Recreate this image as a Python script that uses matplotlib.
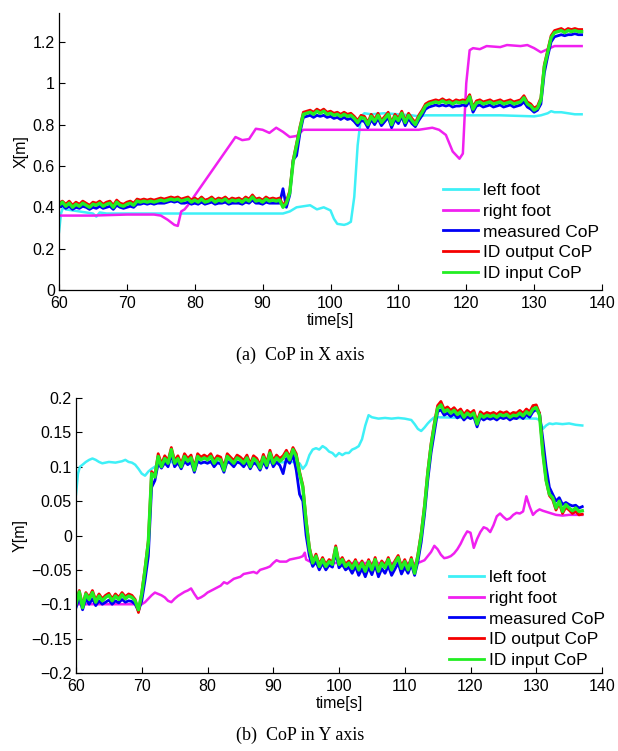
import numpy as np
import matplotlib
matplotlib.use('Agg')
import matplotlib.pyplot as plt

plt.rcParams['font.family'] = ['Liberation Sans', 'DejaVu Sans']

# ---------------- data: CoP in X axis ----------------
# CoP series sampled every 0.5 s from 60 to 137 s
t_cop = np.arange(60, 137.01, 0.5)

x_input = [0.41, 0.425, 0.405, 0.42, 0.40, 0.415, 0.405, 0.42, 0.41, 0.40,
           0.415, 0.41, 0.42, 0.405, 0.415, 0.42, 0.40, 0.425, 0.41, 0.405,
           0.415, 0.42, 0.41, 0.43, 0.425, 0.43, 0.425, 0.43, 0.425, 0.43,
           0.435, 0.43, 0.435, 0.44, 0.435, 0.44, 0.43, 0.435, 0.44, 0.425,
           0.435, 0.425, 0.44, 0.425, 0.43, 0.44, 0.425, 0.435, 0.43, 0.44,
           0.425, 0.435, 0.43, 0.435, 0.425, 0.44, 0.43, 0.45, 0.43, 0.435,
           0.425, 0.44, 0.43, 0.435, 0.43, 0.435, 0.40, 0.42, 0.47, 0.62,
           0.70, 0.78, 0.85, 0.855, 0.86, 0.85, 0.865, 0.855, 0.865, 0.85,
           0.855, 0.845, 0.85, 0.84, 0.85, 0.84, 0.845, 0.83, 0.81, 0.835,
           0.83, 0.80, 0.84, 0.815, 0.845, 0.81, 0.83, 0.85, 0.80, 0.84,
           0.82, 0.855, 0.81, 0.845, 0.82, 0.80, 0.835, 0.86, 0.89, 0.90,
           0.905, 0.91, 0.905, 0.915, 0.905, 0.91, 0.90, 0.91, 0.905, 0.91,
           0.905, 0.935, 0.875, 0.905, 0.91, 0.90, 0.905, 0.91, 0.90, 0.905,
           0.91, 0.90, 0.905, 0.91, 0.90, 0.905, 0.91, 0.93, 0.90, 0.89,
           0.87, 0.88, 0.92, 1.08, 1.15, 1.22, 1.245, 1.25, 1.255, 1.245,
           1.255, 1.25, 1.255, 1.25, 1.25]

x_output = [0.42, 0.43, 0.415, 0.43, 0.41, 0.425, 0.415, 0.43, 0.42, 0.41,
            0.425, 0.42, 0.43, 0.415, 0.425, 0.43, 0.41, 0.435, 0.42, 0.415,
            0.425, 0.43, 0.42, 0.44, 0.435, 0.44, 0.435, 0.44, 0.435, 0.44,
            0.445, 0.44, 0.445, 0.45, 0.445, 0.45, 0.44, 0.445, 0.45, 0.435,
            0.445, 0.435, 0.45, 0.435, 0.44, 0.45, 0.435, 0.445, 0.44, 0.45,
            0.435, 0.445, 0.44, 0.445, 0.435, 0.45, 0.44, 0.46, 0.44, 0.445,
            0.435, 0.45, 0.44, 0.445, 0.44, 0.445, 0.41, 0.43, 0.48, 0.63,
            0.71, 0.79, 0.86, 0.865, 0.87, 0.86, 0.875, 0.865, 0.875, 0.86,
            0.865, 0.855, 0.86, 0.85, 0.86, 0.85, 0.855, 0.84, 0.82, 0.845,
            0.84, 0.81, 0.85, 0.825, 0.855, 0.82, 0.84, 0.86, 0.81, 0.85,
            0.83, 0.865, 0.82, 0.855, 0.83, 0.81, 0.845, 0.87, 0.90, 0.91,
            0.915, 0.92, 0.915, 0.925, 0.915, 0.92, 0.91, 0.92, 0.915, 0.92,
            0.915, 0.945, 0.885, 0.915, 0.92, 0.91, 0.915, 0.92, 0.91, 0.915,
            0.92, 0.91, 0.915, 0.92, 0.91, 0.915, 0.92, 0.94, 0.91, 0.90,
            0.88, 0.89, 0.93, 1.09, 1.16, 1.23, 1.255, 1.26, 1.265, 1.255,
            1.265, 1.26, 1.265, 1.26, 1.26]

x_meas = [0.40, 0.41, 0.395, 0.405, 0.39, 0.40, 0.395, 0.405, 0.40, 0.39,
          0.40, 0.395, 0.405, 0.395, 0.40, 0.405, 0.39, 0.41, 0.40, 0.395,
          0.40, 0.405, 0.40, 0.415, 0.415, 0.42, 0.415, 0.42, 0.415, 0.42,
          0.42, 0.42, 0.425, 0.43, 0.425, 0.43, 0.42, 0.42, 0.425, 0.415,
          0.42, 0.415, 0.425, 0.415, 0.42, 0.425, 0.415, 0.42, 0.42, 0.425,
          0.415, 0.42, 0.42, 0.42, 0.415, 0.425, 0.42, 0.435, 0.42, 0.42,
          0.415, 0.425, 0.42, 0.42, 0.42, 0.42, 0.49, 0.40, 0.46, 0.63,
          0.65, 0.76, 0.835, 0.84, 0.845, 0.835, 0.845, 0.84, 0.845, 0.835,
          0.84, 0.83, 0.835, 0.825, 0.835, 0.825, 0.83, 0.815, 0.795, 0.82,
          0.815, 0.785, 0.825, 0.80, 0.83, 0.795, 0.815, 0.835, 0.785, 0.825,
          0.805, 0.84, 0.795, 0.83, 0.805, 0.79, 0.82, 0.845, 0.875, 0.885,
          0.89, 0.895, 0.89, 0.895, 0.89, 0.895, 0.885, 0.89, 0.89, 0.895,
          0.89, 0.915, 0.86, 0.89, 0.895, 0.885, 0.89, 0.895, 0.885, 0.89,
          0.895, 0.885, 0.89, 0.895, 0.885, 0.89, 0.895, 0.91, 0.885, 0.875,
          0.86, 0.87, 0.90, 1.05, 1.13, 1.20, 1.225, 1.23, 1.235, 1.23,
          1.235, 1.235, 1.24, 1.235, 1.235]

t_lx = [60, 60.3, 60.6, 61, 62, 63, 64, 65, 65.5, 66,
        67, 70, 75, 80, 85, 90, 93, 94, 95, 96,
        97, 98, 99, 100, 100.5, 101, 102, 102.5, 103, 103.5,
        104, 104.5, 105, 106, 108, 110, 112, 113, 114, 120,
        125, 130, 131, 132, 132.5, 133, 134, 135, 136, 137]
left_x = [0.28, 0.37, 0.40, 0.39, 0.385, 0.38, 0.375, 0.37, 0.355, 0.375,
          0.37, 0.37, 0.37, 0.37, 0.37, 0.37, 0.37, 0.38, 0.40, 0.405,
          0.41, 0.39, 0.40, 0.385, 0.345, 0.32, 0.315, 0.32, 0.33, 0.45,
          0.70, 0.84, 0.855, 0.85, 0.855, 0.85, 0.845, 0.84, 0.845, 0.845,
          0.845, 0.84, 0.845, 0.855, 0.865, 0.86, 0.86, 0.855, 0.85, 0.85]

t_rx = [60, 65, 70, 74, 75, 76, 77, 77.5, 78, 78.5,
        79, 86, 87, 88, 89, 90, 91, 92, 93, 94,
        95, 96, 100, 105, 110, 113, 114, 115, 116, 117,
        118, 119, 119.5, 120, 120.5, 121, 122, 123, 125, 126,
        128, 129, 130, 131, 132, 133, 137]
right_x = [0.36, 0.36, 0.365, 0.365, 0.36, 0.34, 0.315, 0.31, 0.38, 0.39,
           0.41, 0.74, 0.725, 0.73, 0.78, 0.775, 0.76, 0.785, 0.765, 0.74,
           0.745, 0.775, 0.775, 0.775, 0.775, 0.775, 0.78, 0.785, 0.775, 0.75,
           0.67, 0.635, 0.66, 1.0, 1.16, 1.17, 1.165, 1.18, 1.175, 1.185,
           1.18, 1.185, 1.17, 1.15, 1.165, 1.18, 1.18]

# ---------------- data: CoP in Y axis ----------------
y_input = [-0.10, -0.082, -0.105, -0.085, -0.093, -0.083, -0.097, -0.088, -0.095, -0.09,
           -0.087, -0.095, -0.088, -0.093, -0.086, -0.092, -0.088, -0.09, -0.095, -0.108,
           -0.085, -0.05, -0.01, 0.09, 0.085, 0.115, 0.10, 0.112, 0.105, 0.125,
           0.105, 0.112, 0.10, 0.115, 0.108, 0.113, 0.095, 0.115, 0.11, 0.113,
           0.11, 0.115, 0.105, 0.112, 0.11, 0.095, 0.115, 0.11, 0.105, 0.113,
           0.11, 0.105, 0.113, 0.10, 0.112, 0.108, 0.098, 0.114, 0.102, 0.12,
           0.105, 0.113, 0.108, 0.112, 0.12, 0.11, 0.125, 0.115, 0.09, 0.07,
           0.02, -0.02, -0.04, -0.03, -0.045, -0.035, -0.045, -0.038, -0.042, -0.018,
           -0.042, -0.035, -0.045, -0.04, -0.048, -0.038, -0.05, -0.04, -0.052, -0.038,
           -0.05, -0.035, -0.052, -0.04, -0.047, -0.035, -0.05, -0.04, -0.032, -0.048,
           -0.038, -0.05, -0.035, -0.055, -0.03, 0.0, 0.04, 0.09, 0.13, 0.16,
           0.185, 0.19, 0.18, 0.183, 0.178, 0.182, 0.176, 0.18, 0.172, 0.178,
           0.174, 0.178, 0.162, 0.176, 0.172, 0.175, 0.173, 0.175, 0.172, 0.176,
           0.174, 0.176, 0.172, 0.175, 0.174, 0.178, 0.174, 0.18, 0.176, 0.184,
           0.186, 0.175, 0.12, 0.08, 0.06, 0.055, 0.04, 0.05, 0.035, 0.045,
           0.04, 0.036, 0.04, 0.035, 0.036]

y_output = [-0.097, -0.08, -0.102, -0.083, -0.09, -0.08, -0.094, -0.085, -0.092, -0.087,
            -0.084, -0.092, -0.085, -0.09, -0.083, -0.089, -0.085, -0.087, -0.093, -0.112,
            -0.083, -0.047, -0.007, 0.093, 0.088, 0.119, 0.104, 0.116, 0.109, 0.128,
            0.109, 0.116, 0.104, 0.119, 0.112, 0.117, 0.099, 0.119, 0.114, 0.117,
            0.114, 0.119, 0.109, 0.116, 0.114, 0.099, 0.119, 0.114, 0.109, 0.117,
            0.114, 0.109, 0.117, 0.104, 0.116, 0.112, 0.102, 0.118, 0.106, 0.124,
            0.109, 0.117, 0.112, 0.116, 0.124, 0.114, 0.128, 0.119, 0.093, 0.073,
            0.023, -0.017, -0.038, -0.027, -0.042, -0.032, -0.042, -0.035, -0.039, -0.015,
            -0.039, -0.032, -0.042, -0.037, -0.045, -0.035, -0.047, -0.037, -0.049, -0.035,
            -0.047, -0.032, -0.049, -0.037, -0.044, -0.032, -0.047, -0.037, -0.029, -0.045,
            -0.035, -0.047, -0.032, -0.052, -0.027, 0.004, 0.044, 0.094, 0.134, 0.164,
            0.189, 0.195, 0.184, 0.187, 0.182, 0.186, 0.18, 0.184, 0.176, 0.182,
            0.178, 0.182, 0.166, 0.18, 0.176, 0.179, 0.177, 0.179, 0.176, 0.18,
            0.178, 0.18, 0.176, 0.179, 0.178, 0.182, 0.178, 0.184, 0.18, 0.189,
            0.19, 0.178, 0.122, 0.08, 0.058, 0.052, 0.037, 0.047, 0.032, 0.041,
            0.037, 0.032, 0.035, 0.03, 0.031]

y_meas = [-0.105, -0.09, -0.108, -0.092, -0.10, -0.092, -0.102, -0.095, -0.10, -0.097,
          -0.094, -0.10, -0.095, -0.098, -0.093, -0.097, -0.095, -0.096, -0.10, -0.11,
          -0.095, -0.065, -0.03, 0.07, 0.08, 0.105, 0.098, 0.106, 0.10, 0.118,
          0.10, 0.106, 0.097, 0.108, 0.103, 0.107, 0.092, 0.108, 0.105, 0.107,
          0.105, 0.108, 0.10, 0.106, 0.104, 0.092, 0.108, 0.105, 0.10, 0.107,
          0.105, 0.10, 0.107, 0.097, 0.106, 0.103, 0.095, 0.108, 0.098, 0.114,
          0.10, 0.107, 0.102, 0.09, 0.112, 0.105, 0.118, 0.095, 0.06, 0.05,
          0.0, -0.03, -0.045, -0.038, -0.05, -0.04, -0.05, -0.043, -0.046, -0.025,
          -0.047, -0.042, -0.05, -0.046, -0.055, -0.045, -0.058, -0.048, -0.06, -0.046,
          -0.057, -0.043, -0.06, -0.048, -0.055, -0.044, -0.058, -0.049, -0.04, -0.056,
          -0.046, -0.055, -0.042, -0.058, -0.038, -0.01, 0.03, 0.08, 0.12, 0.15,
          0.18, 0.183, 0.175, 0.178, 0.173, 0.177, 0.171, 0.175, 0.168, 0.173,
          0.17, 0.173, 0.158, 0.172, 0.168, 0.171, 0.169, 0.171, 0.168, 0.172,
          0.17, 0.172, 0.168, 0.171, 0.17, 0.174, 0.17, 0.176, 0.172, 0.18,
          0.183, 0.178, 0.14, 0.10, 0.07, 0.06, 0.05, 0.055, 0.045, 0.048,
          0.045, 0.043, 0.044, 0.04, 0.042]

t_ly = [60, 60.3, 60.6, 61, 61.5, 62, 62.5, 63, 63.5, 64,
        65, 66, 67, 67.5, 68, 68.5, 69, 69.5, 70, 70.5,
        71, 71.5, 72, 72.5, 73, 80, 85, 90, 93, 94,
        94.5, 95, 95.5, 96, 96.5, 97, 97.5, 98, 98.5, 99,
        99.5, 100, 100.5, 101, 101.5, 102, 102.5, 103, 103.5, 104,
        104.5, 105, 106, 107, 108, 109, 110, 111, 111.5, 112,
        112.5, 113, 113.5, 114, 114.5, 115, 120, 125, 130, 130.5,
        131, 131.5, 132, 132.5, 133, 134, 135, 136, 137]
left_y = [0.06, 0.09, 0.10, 0.103, 0.107, 0.11, 0.112, 0.11, 0.107, 0.105,
          0.107, 0.106, 0.108, 0.11, 0.107, 0.106, 0.103, 0.097, 0.09, 0.087,
          0.093, 0.097, 0.10, 0.105, 0.107, 0.106, 0.106, 0.106, 0.107, 0.105,
          0.097, 0.103, 0.117, 0.125, 0.127, 0.125, 0.13, 0.127, 0.122, 0.12,
          0.115, 0.12, 0.117, 0.12, 0.12, 0.125, 0.127, 0.13, 0.14, 0.16,
          0.175, 0.172, 0.17, 0.171, 0.17, 0.171, 0.17, 0.168, 0.162, 0.155,
          0.152, 0.157, 0.163, 0.168, 0.172, 0.172, 0.171, 0.171, 0.17, 0.168,
          0.155, 0.16, 0.163, 0.162, 0.163, 0.162, 0.163, 0.161, 0.16]

t_ry = [60, 65, 69, 69.5, 70, 70.5, 71, 71.5, 72, 72.5,
        73, 73.5, 74, 74.5, 75, 75.5, 76, 76.5, 77, 77.5,
        78, 78.5, 79, 79.5, 80, 81, 82, 82.5, 83, 84,
        85, 85.5, 86, 87, 87.5, 88, 89, 89.5, 90, 90.5,
        91, 92, 92.5, 93, 94, 94.5, 94.8, 95, 96, 100,
        105, 110, 112, 113, 113.5, 114, 114.5, 115, 115.5, 116,
        116.5, 117, 117.5, 118, 118.5, 119, 119.5, 120, 120.5, 121,
        121.5, 122, 122.5, 123, 123.5, 124, 124.5, 125, 125.5, 126,
        126.5, 127, 127.5, 128, 128.5, 129, 129.5, 130, 130.5, 131,
        132, 133, 134, 135, 137]
right_y = [-0.10, -0.10, -0.10, -0.102, -0.10, -0.097, -0.092, -0.087, -0.083, -0.085,
           -0.087, -0.09, -0.095, -0.097, -0.092, -0.088, -0.085, -0.082, -0.08, -0.077,
           -0.085, -0.092, -0.09, -0.087, -0.083, -0.078, -0.073, -0.068, -0.07, -0.063,
           -0.06, -0.056, -0.055, -0.053, -0.055, -0.05, -0.047, -0.045, -0.04, -0.036,
           -0.038, -0.038, -0.035, -0.034, -0.032, -0.03, -0.025, -0.035, -0.04, -0.04,
           -0.04, -0.04, -0.04, -0.036, -0.03, -0.024, -0.015, -0.02, -0.028, -0.033,
           -0.032, -0.03, -0.026, -0.02, -0.012, -0.002, 0.006, 0.004, -0.018, -0.005,
           0.005, 0.012, 0.01, 0.005, 0.015, 0.028, 0.032, 0.027, 0.023, 0.025,
           0.03, 0.033, 0.032, 0.035, 0.057, 0.042, 0.03, 0.035, 0.038, 0.036,
           0.033, 0.03, 0.029, 0.03, 0.03]

labels = ['left foot', 'right foot', 'measured CoP', 'ID output CoP', 'ID input CoP']
colors = ['#3ef0f7', '#f020f0', '#0000f5', '#f50000', '#22ee22']

x_ticks = [60, 70, 80, 90, 100, 110, 120, 130, 140]
yx_ticks = [0, 0.2, 0.4, 0.6, 0.8, 1.0, 1.2]
yx_labels = ['0', '0.2', '0.4', '0.6', '0.8', '1', '1.2']
yy_ticks = [-0.2, -0.15, -0.1, -0.05, 0, 0.05, 0.1, 0.15, 0.2]
yy_labels = ['\u22120.2', '\u22120.15', '\u22120.1', '\u22120.05', '0',
             '0.05', '0.1', '0.15', '0.2']

fig = plt.figure(figsize=(6.18, 7.51), dpi=100)

ax1 = fig.add_axes([59/618, 1-290/751, 543/618, 277/751])
ax2 = fig.add_axes([76/618, 1-673/751, 526/618, 275/751])


def style(ax):
    for s in ['top', 'right']:
        ax.spines[s].set_visible(False)
    for s in ['left', 'bottom']:
        ax.spines[s].set_linewidth(0.9)
    ax.tick_params(direction='in', length=4, width=0.8, labelsize=11.5, pad=3)
    ax.tick_params(axis='x', pad=4)
    ax.set_xlim(60, 140)
    ax.set_xticks(x_ticks)
    ax.set_xlabel('time[s]', fontsize=11.5, labelpad=2)


# top panel
ax1.plot(t_lx, left_x, color=colors[0], lw=1.8, label=labels[0])
ax1.plot(t_rx, right_x, color=colors[1], lw=1.8, label=labels[1])
ax1.plot(t_cop, x_meas, color=colors[2], lw=2.0, label=labels[2])
ax1.plot(t_cop, x_output, color=colors[3], lw=2.0, label=labels[3])
ax1.plot(t_cop, x_input, color=colors[4], lw=2.4, label=labels[4])
style(ax1)
ax1.set_ylim(0, 1.34)
ax1.set_yticks(yx_ticks)
ax1.set_yticklabels(yx_labels)
ax1.set_ylabel('X[m]', fontsize=11.5, labelpad=3)

# bottom panel
ax2.plot(t_ly, left_y, color=colors[0], lw=1.8, label=labels[0])
ax2.plot(t_ry, right_y, color=colors[1], lw=1.8, label=labels[1])
ax2.plot(t_cop, y_meas, color=colors[2], lw=2.0, label=labels[2])
ax2.plot(t_cop, y_output, color=colors[3], lw=2.0, label=labels[3])
ax2.plot(t_cop, y_input, color=colors[4], lw=2.4, label=labels[4])
style(ax2)
ax2.set_ylim(-0.2, 0.2)
ax2.set_yticks(yy_ticks)
ax2.set_yticklabels(yy_labels)
ax2.set_ylabel('Y[m]', fontsize=11.5, labelpad=3)

for ax, (lx, ly) in [(ax1, (443, 183)), (ax2, (449, 570))]:
    leg = ax.legend(loc='upper left', bbox_to_anchor=(lx/618, 1-ly/751),
                    bbox_transform=fig.transFigure, frameon=False,
                    fontsize=12.5, handlelength=2.0, handletextpad=0.3,
                    labelspacing=0.32, borderpad=0, borderaxespad=0)
    for h in leg.get_lines():
        h.set_linewidth(2.0)

fig.text(300/618, 1-355/751, '(a)  CoP in X axis', ha='center', va='center',
         fontsize=13, family='Liberation Serif')
fig.text(300/618, 1-735/751, '(b)  CoP in Y axis', ha='center', va='center',
         fontsize=13, family='Liberation Serif')

fig.savefig('out.png', dpi=100)
